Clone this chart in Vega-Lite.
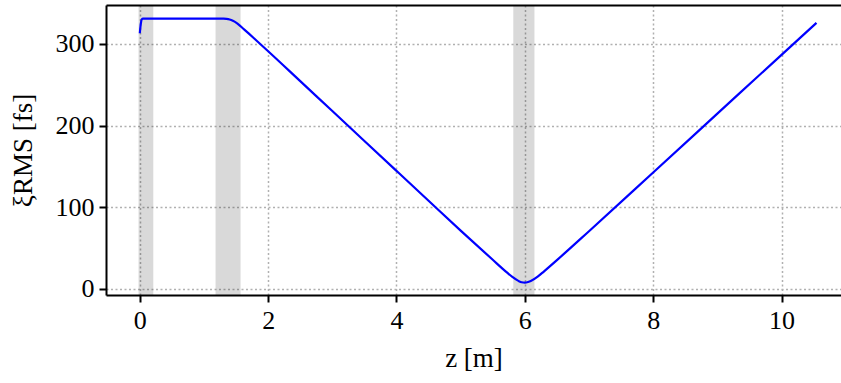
{
  "$schema": "https://vega.github.io/schema/vega-lite/v6.json",
  "autosize": "none",
  "width": 735,
  "height": 290,
  "padding": {"left": 106, "top": 5, "right": 0, "bottom": 88},
  "background": "white",
  "config": {
    "view": {"stroke": null},
    "font": "Liberation Serif",
    "axis": {
      "labelFont": "Liberation Serif",
      "titleFont": "Liberation Serif",
      "labelFontSize": 26,
      "titleFontSize": 27,
      "titleFontWeight": "normal",
      "labelColor": "black",
      "titleColor": "black",
      "domainColor": "black",
      "domainWidth": 2,
      "tickColor": "black",
      "tickWidth": 2,
      "tickSize": 7,
      "labelPadding": 5,
      "gridColor": "#b0b0b0",
      "gridWidth": 1.5,
      "gridDash": [2, 2.5]
    }
  },
  "resolve": {"axis": {"x": "independent"}},
  "datasets": {
    "bands": [
      {"z0": -0.02, "z1": 0.21},
      {"z0": 1.18, "z1": 1.57},
      {"z0": 5.82, "z1": 6.15}
    ],
    "series": [
      {"z": 0.0, "xi": 313},
      {"z": 0.01, "xi": 321},
      {"z": 0.02, "xi": 327},
      {"z": 0.03, "xi": 330},
      {"z": 0.05, "xi": 331},
      {"z": 0.5, "xi": 331},
      {"z": 1.0, "xi": 331},
      {"z": 1.25, "xi": 331},
      {"z": 1.3, "xi": 330.9},
      {"z": 1.35, "xi": 330.6},
      {"z": 1.4, "xi": 329.8},
      {"z": 1.45, "xi": 328.2},
      {"z": 1.5, "xi": 326},
      {"z": 1.55, "xi": 323},
      {"z": 1.6, "xi": 319.5},
      {"z": 1.7, "xi": 312.5},
      {"z": 1.8, "xi": 305.3},
      {"z": 2.0, "xi": 291},
      {"z": 2.5, "xi": 254.4},
      {"z": 3.0, "xi": 217.8},
      {"z": 3.5, "xi": 181.2},
      {"z": 4.0, "xi": 144.6},
      {"z": 4.5, "xi": 108},
      {"z": 5.0, "xi": 71.4},
      {"z": 5.5, "xi": 35.7},
      {"z": 5.7, "xi": 21.6},
      {"z": 5.8, "xi": 15},
      {"z": 5.9, "xi": 9.9},
      {"z": 5.95, "xi": 8.2},
      {"z": 6.0, "xi": 7.8},
      {"z": 6.05, "xi": 8.5},
      {"z": 6.1, "xi": 10},
      {"z": 6.2, "xi": 15},
      {"z": 6.3, "xi": 21.6},
      {"z": 6.5, "xi": 35.3},
      {"z": 7.0, "xi": 70.7},
      {"z": 8.0, "xi": 142.6},
      {"z": 9.0, "xi": 214.6},
      {"z": 10.0, "xi": 286.6},
      {"z": 10.545, "xi": 325.7}
    ]
  },
  "layer": [
    {
      "data": {"name": "bands"},
      "mark": {"type": "rect", "color": "black", "opacity": 0.15},
      "encoding": {
        "x": {
          "field": "z0",
          "type": "quantitative",
          "scale": {"domain": [-0.527, 10.927], "nice": false, "zero": false},
          "axis": {"orient": "top", "labels": false, "ticks": false, "grid": false, "title": null}
        },
        "x2": {"field": "z1"}
      }
    },
    {
      "data": {"name": "series"},
      "mark": {"type": "line", "color": "#0000ff", "strokeWidth": 2.2, "interpolate": "monotone"},
      "encoding": {
        "x": {
          "field": "z",
          "type": "quantitative",
          "scale": {"domain": [-0.527, 10.927], "nice": false, "zero": false},
          "axis": {"orient": "bottom", "grid": true, "values": [0, 2, 4, 6, 8, 10], "title": "z [m]", "titlePadding": 12}
        },
        "y": {
          "field": "xi",
          "type": "quantitative",
          "scale": {"domain": [-7.4, 347.6], "nice": false, "zero": false},
          "axis": {"grid": true, "values": [0, 100, 200, 300], "title": "ξRMS [fs]", "titlePadding": 18}
        }
      }
    }
  ]
}
